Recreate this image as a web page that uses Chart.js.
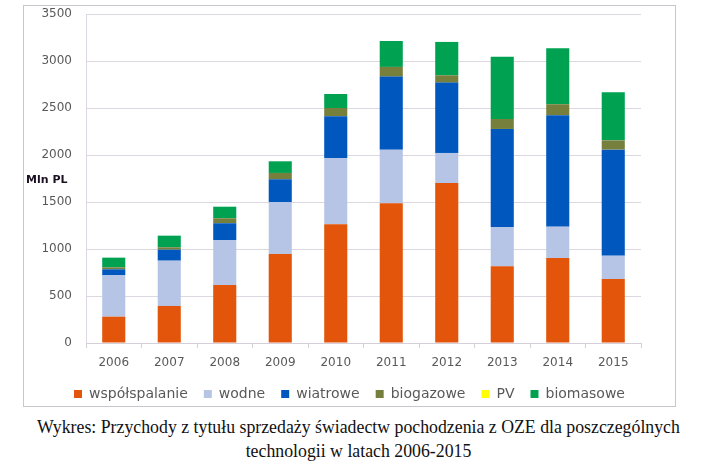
<!DOCTYPE html>
<html lang="pl">
<head>
    <meta charset="UTF-8">
    <title>Przychody ze sprzedaży świadectw pochodzenia OZE</title>
    <script src="https://cdn.jsdelivr.net/npm/chart.js"></script>
    <style>
        body {
            margin: 0;
            width: 717px;
            height: 472px;
            background: #ffffff;
            position: relative;
            overflow: hidden;
        }
        .frame {
            position: absolute;
            left: 23px;
            top: 5px;
            width: 651px;
            height: 400px;
            border: 1px solid #cbc5cf;
        }
        .unit {
            position: absolute;
            left: 26px;
            top: 173px;
            font-family: "DejaVu Sans", sans-serif;
            font-weight: bold;
            font-size: 11px;
            color: #1a1020;
        }
        .caption {
            position: absolute;
            left: 0;
            top: 415px;
            width: 717px;
            text-align: center;
            font-family: "Liberation Serif", serif;
            font-size: 17.8px;
            line-height: 24px;
            color: #111;
        }
    </style>
</head>
<body>

    <div class="frame">
        <canvas id="oze" width="651" height="400"></canvas>
    </div>
    <div class="unit">Mln PL</div>
    <div class="caption">Wykres: Przychody z tytułu sprzedaży świadectw pochodzenia z OZE dla poszczególnych<br>technologii w latach 2006-2015</div>

    <script>
        const years = ["2006", "2007", "2008", "2009", "2010", "2011", "2012", "2013", "2014", "2015"];
        const wspolspalanie = [280, 394, 617, 947, 1263, 1486, 1702, 816, 904, 681];
        const wodne = [440, 482, 479, 553, 705, 571, 320, 418, 334, 248];
        const wiatrowe = [64, 117, 178, 242, 444, 777, 748, 1043, 1185, 1128];
        const biogazowe = [21, 25, 53, 67, 88, 103, 78, 106, 117, 99];
        const pv = [0, 0, 0, 0, 0, 0, 0, 0, 0, 0];
        const biomasowe = [103, 124, 123, 124, 149, 276, 355, 663, 596, 511];
        const yTicks = [0, 500, 1000, 1500, 2000, 2500, 3000, 3500];

        const tickFont = { family: "'DejaVu Sans', sans-serif", size: 12 };

        let ctx = document.getElementById('oze').getContext('2d');
        new Chart(ctx, {
            type: 'bar',
            data: {
                labels: years,
                datasets: [
                    { label: 'współspalanie', data: wspolspalanie, backgroundColor: '#e2550a' },
                    { label: 'wodne', data: wodne, backgroundColor: '#b6c5e5' },
                    { label: 'wiatrowe', data: wiatrowe, backgroundColor: '#0058bf' },
                    { label: 'biogazowe', data: biogazowe, backgroundColor: '#76803c' },
                    { label: 'PV', data: pv, backgroundColor: '#ffff00' },
                    { label: 'biomasowe', data: biomasowe, backgroundColor: '#00a251' }
                ]
            },
            options: {
                responsive: false,
                animation: false,
                layout: {
                    padding: { left: 0, right: 0, top: 8, bottom: -5 }
                },
                datasets: {
                    bar: { barPercentage: 0.52, categoryPercentage: 0.8, borderWidth: 0 }
                },
                plugins: {
                    legend: {
                        position: 'bottom',
                        labels: {
                            boxWidth: 8,
                            boxHeight: 8,
                            padding: 16,
                            color: '#595959',
                            font: { family: "'DejaVu Sans', sans-serif", size: 14 }
                        }
                    },
                    tooltip: { enabled: false }
                },
                scales: {
                    x: {
                        stacked: true,
                        afterFit: s => { s.height = 28; },
                        grid: {
                            drawOnChartArea: false,
                            drawTicks: true,
                            tickLength: 5,
                            color: '#d4cfd8'
                        },
                        border: { color: '#d4cfd8' },
                        ticks: { color: '#595959', font: tickFont, padding: 8 }
                    },
                    y: {
                        stacked: true,
                        min: 0,
                        max: 3500,
                        afterFit: s => { s.width = 62; },
                        afterBuildTicks: s => { s.ticks = yTicks.map(v => ({ value: v })); },
                        grid: { color: '#dcd7e0', drawTicks: true, tickLength: 14, tickColor: 'rgba(0,0,0,0)' },
                        border: { display: true, color: '#dcd7e0' },
                        ticks: { color: '#595959', font: tickFont, padding: 0, callback: v => String(v) }
                    },
                    // empty right-hand margin, so the legend stays centred in the frame
                    yRight: {
                        type: 'linear',
                        position: 'right',
                        min: 0,
                        max: 3500,
                        afterFit: s => { s.width = 34; },
                        grid: { display: false },
                        border: { display: false },
                        ticks: { display: false }
                    }
                }
            }
        });
    </script>

</body>
</html>
